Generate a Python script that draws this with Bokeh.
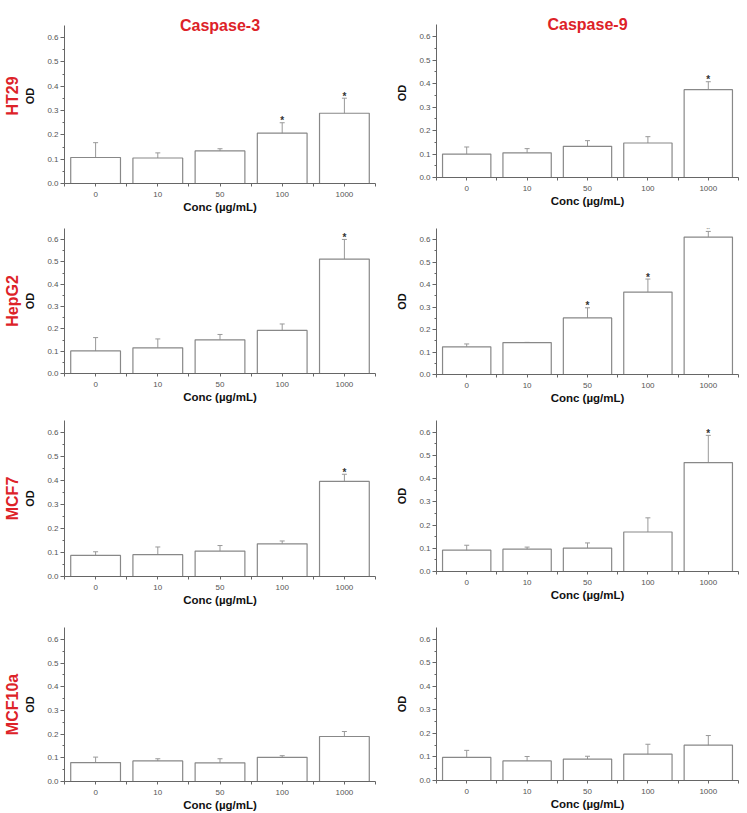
from bokeh.plotting import figure
from bokeh.layouts import column, row
from bokeh.models import (ColumnDataSource, Whisker, TeeHead, Range1d, FixedTicker,
                          SingleIntervalTicker, NumeralTickFormatter, Title, Label)
from bokeh.core.properties import value
from bokeh.embed import file_html
from bokeh.resources import INLINE

# ---------------- data ----------------
concs = ["0", "10", "50", "100", "1000"]
cell_lines = ["HT29", "HepG2", "MCF7", "MCF10a"]
enzymes = ["Caspase-3", "Caspase-9"]

ht29_c3 = [0.107, 0.105, 0.134, 0.207, 0.289]
ht29_c3_err = [0.061, 0.021, 0.009, 0.043, 0.062]
ht29_c3_sig = [False, False, False, True, True]

ht29_c9 = [0.100, 0.105, 0.133, 0.147, 0.374]
ht29_c9_err = [0.030, 0.018, 0.024, 0.027, 0.034]
ht29_c9_sig = [False, False, False, False, True]

hepg2_c3 = [0.101, 0.115, 0.151, 0.193, 0.513]
hepg2_c3_err = [0.060, 0.040, 0.024, 0.029, 0.088]
hepg2_c3_sig = [False, False, False, False, True]

hepg2_c9 = [0.123, 0.142, 0.252, 0.367, 0.612]
hepg2_c9_err = [0.013, 0.001, 0.045, 0.058, 0.025]
hepg2_c9_sig = [False, False, True, True, True]

mcf7_c3 = [0.088, 0.091, 0.106, 0.136, 0.396]
mcf7_c3_err = [0.015, 0.032, 0.023, 0.012, 0.030]
mcf7_c3_sig = [False, False, False, False, True]

mcf7_c9 = [0.092, 0.096, 0.101, 0.170, 0.469]
mcf7_c9_err = [0.021, 0.009, 0.022, 0.061, 0.117]
mcf7_c9_sig = [False, False, False, False, True]

mcf10a_c3 = [0.080, 0.087, 0.079, 0.102, 0.190]
mcf10a_c3_err = [0.023, 0.009, 0.017, 0.007, 0.021]
mcf10a_c3_sig = [False, False, False, False, False]

mcf10a_c9 = [0.098, 0.083, 0.091, 0.112, 0.150]
mcf10a_c9_err = [0.030, 0.019, 0.012, 0.042, 0.041]
mcf10a_c9_sig = [False, False, False, False, False]

y_axis_max = 0.65

panels = [
    [(ht29_c3, ht29_c3_err, ht29_c3_sig), (ht29_c9, ht29_c9_err, ht29_c9_sig)],
    [(hepg2_c3, hepg2_c3_err, hepg2_c3_sig), (hepg2_c9, hepg2_c9_err, hepg2_c9_sig)],
    [(mcf7_c3, mcf7_c3_err, mcf7_c3_sig), (mcf7_c9, mcf7_c9_err, mcf7_c9_sig)],
    [(mcf10a_c3, mcf10a_c3_err, mcf10a_c3_sig), (mcf10a_c9, mcf10a_c9_err, mcf10a_c9_sig)],
]

# ---------------- layout / style ----------------
FONT = "Liberation Sans"
RED = "#dd2228"
AXIS_GRAY = "#666666"
BAR_GRAY = "#888888"
ERR_GRAY = "#999999"

# per panel: (top border, frame height, bottom border, y range end)
geom = [
    [(7, 175, 34, 0.72), (8, 169, 39, 0.72)],
    [(12, 145, 35, 0.65), (12, 146, 34, 0.65)],
    [(12, 156, 38, 0.65), (12, 151, 43, 0.65)],
    [(12, 154, 31, 0.65), (13, 153, 31, 0.65)],
]
col_left = [61, 57]
col_frame_w = [311, 302]
col_right = [4, 8]


def make_panel(r, c):
    vals, errs, sig = panels[r][c]
    top_b, fh, bot_b, y_end = geom[r][c]
    xs = list(range(len(concs)))
    p = figure(frame_width=col_frame_w[c], frame_height=fh,
               x_range=Range1d(-0.5, len(concs) - 0.5),
               y_range=Range1d(0, y_end), title=None,
               output_backend="svg", toolbar_location=None,
               min_border_left=col_left[c], min_border_right=col_right[c],
               min_border_top=top_b, min_border_bottom=bot_b)
    p.outline_line_color = None
    p.grid.visible = False
    p.background_fill_color = "white"

    up = [v + e for v, e in zip(vals, errs)]
    lo = [v - e for v, e in zip(vals, errs)]
    src = ColumnDataSource(dict(x=xs, top=vals, upper=up, lower=lo))
    p.vbar(x="x", top="top", width=0.8, bottom=0, source=src,
           fill_color="white", line_color=BAR_GRAY, line_width=1.2)
    w = Whisker(base="x", upper="upper", lower="lower", source=src,
                line_color=ERR_GRAY, line_width=1,
                upper_head=TeeHead(size=5, line_color=ERR_GRAY, line_width=1),
                lower_head=TeeHead(size=5, line_color=ERR_GRAY, line_width=1))
    p.add_layout(w)

    sx = [x for x, s in zip(xs, sig) if s]
    sy = [u for u, s in zip(up, sig) if s]
    if sx:
        p.text(x=sx, y=sy, text=["*"] * len(sx), text_align="center",
               text_baseline="alphabetic", y_offset=-2,
               text_font=value(FONT), text_font_size="10px",
               text_font_style="bold", text_color="#333333")

    # x axis
    xa = p.xaxis[0]
    xa.ticker = FixedTicker(ticks=xs, minor_ticks=[x - 0.5 for x in xs] + [xs[-1] + 0.5])
    xa.major_label_overrides = {i: s for i, s in enumerate(concs)}
    xa.major_tick_out = 3
    xa.major_tick_in = 0
    xa.minor_tick_out = 3
    xa.minor_tick_in = 0
    xa.axis_line_color = AXIS_GRAY
    xa.major_tick_line_color = AXIS_GRAY
    xa.minor_tick_line_color = AXIS_GRAY
    xa.major_label_text_font = FONT
    xa.major_label_text_font_size = "8px"
    xa.major_label_text_color = "#555555"
    xa.major_label_standoff = 5
    xa.axis_label = "Conc (\u00b5g/mL)"
    xa.axis_label_text_font = FONT
    xa.axis_label_text_font_size = "11.5px"
    xa.axis_label_text_font_style = "bold"
    xa.axis_label_text_color = "#111111"
    xa.axis_label_standoff = 1

    # y axis
    ya = p.yaxis[0]
    ya.bounds = (0, y_axis_max)
    ya.ticker = SingleIntervalTicker(interval=0.1, num_minor_ticks=2)
    ya.formatter = NumeralTickFormatter(format="0.0")
    ya.major_tick_out = 4
    ya.major_tick_in = 0
    ya.minor_tick_out = 2
    ya.minor_tick_in = 0
    ya.axis_line_color = AXIS_GRAY
    ya.major_tick_line_color = AXIS_GRAY
    ya.minor_tick_line_color = AXIS_GRAY
    ya.major_label_text_font = FONT
    ya.major_label_text_font_size = "8px"
    ya.major_label_text_color = "#555555"
    ya.major_label_standoff = 2
    ya.axis_label = "OD"
    ya.axis_label_text_font = FONT
    ya.axis_label_text_font_size = "11px"
    ya.axis_label_text_font_style = "bold"
    ya.axis_label_text_color = "#111111"
    ya.axis_label_standoff = 8

    if c == 0:
        p.add_layout(Title(text=cell_lines[r], align="center", text_font=FONT,
                           text_font_size="16px", text_font_style="bold",
                           text_color=RED, standoff=2), "left")
    if r == 0:
        p.add_layout(Label(x=(len(concs) - 1) / 2, y=y_axis_max, text=enzymes[c],
                           text_align="center", text_baseline="middle",
                           text_font=FONT, text_font_size="16px",
                           text_font_style="bold", text_color=RED))
    return p


rows = []
for r in range(4):
    rows.append(row(make_panel(r, 0), make_panel(r, 1), spacing=0))
layout = column(*rows, spacing=0)

open("out.html", "w").write(file_html(layout, INLINE))
